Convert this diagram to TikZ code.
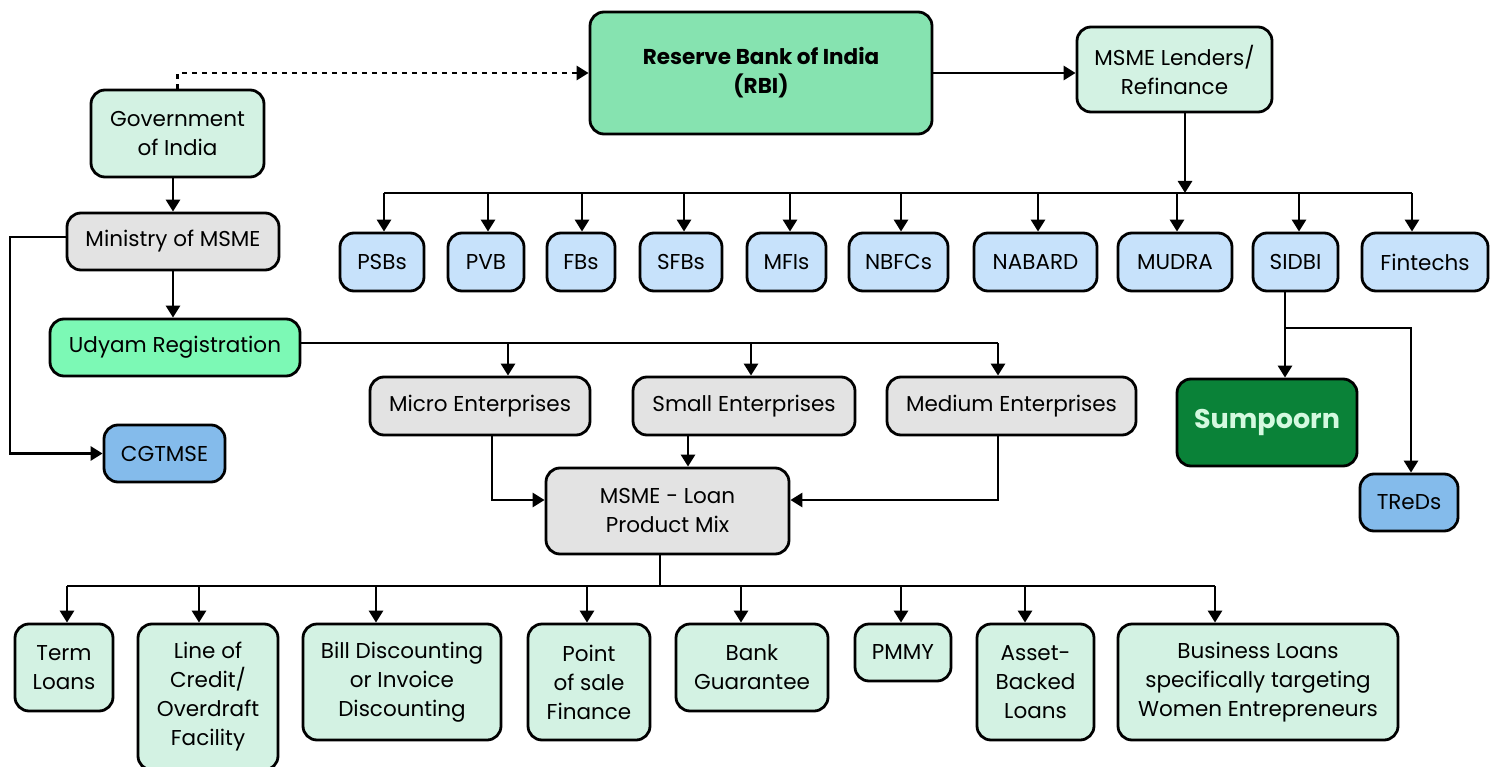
\documentclass[tikz,border=0pt]{standalone}
\usepackage{fontspec}
\setmainfont{Poppins}
\usetikzlibrary{arrows.meta}

\definecolor{paleg}{HTML}{D3F2E3}
\definecolor{rbig}{HTML}{86E3B0}
\definecolor{udyg}{HTML}{7CF9B5}
\definecolor{greyb}{HTML}{E3E3E3}
\definecolor{paleb}{HTML}{C7E2FB}
\definecolor{midb}{HTML}{84BBEB}
\definecolor{darkg}{HTML}{0A8238}
\definecolor{sumtxt}{HTML}{D4F9E0}

\begin{document}
\begin{tikzpicture}[x=1pt,y=-1pt,
    box/.style={draw, line width=2.8pt, rounded corners=14pt, align=center, inner sep=0pt,
        font=\fontsize{21.5pt}{29pt}\selectfont},
    arr/.style={line width=2.8pt, -{Triangle[length=12pt,width=14pt]}},
    wire/.style={line width=2.8pt}]
    \path[use as bounding box, fill=white] (0,0) rectangle (1498,767);

    \node[box, fill=rbig, minimum width=342, minimum height=122,
        font=\fontsize{21.5pt}{29pt}\selectfont\bfseries] (rbi) at (761,73) {Reserve Bank of India\\(RBI)};
    \node[box, fill=paleg, minimum width=195, minimum height=85] (lend) at (1174.5,69.5) {MSME Lenders/\\Refinance};
    \node[box, fill=paleg, minimum width=173, minimum height=87] (gov) at (177.5,133.5) {Government\\of India};
    \node[box, fill=greyb, minimum width=212, minimum height=57] (min) at (173,241.5) {Ministry of MSME};
    \node[box, fill=udyg, minimum width=250, minimum height=57] (udy) at (175,347.5) {Udyam Registration};
    \node[box, fill=midb, minimum width=121, minimum height=57] (cgt) at (164.5,453.5) {CGTMSE};

    \foreach \n/\x/\w/\t in {psb/382/84/PSBs, pvb/486/76/PVB, fbs/581/68/FBs, sfb/681/82/SFBs,
        mfi/786.5/79/MFIs, nbfc/898.5/99/NBFCs, nab/1035.5/123/NABARD, mud/1175/114/MUDRA,
        sid/1295.5/85/SIDBI, fin/1425/126/Fintechs}
        \node[box, fill=paleb, minimum width=\w, minimum height=58] (\n) at (\x,262) {\t};

    \node[box, fill=greyb, minimum width=220, minimum height=58] (mic) at (480,406) {Micro Enterprises};
    \node[box, fill=greyb, minimum width=222, minimum height=58] (sml) at (744,406) {Small Enterprises};
    \node[box, fill=greyb, minimum width=249, minimum height=58] (med) at (1011.5,406) {Medium Enterprises};
    \node[box, fill=greyb, minimum width=243, minimum height=86] (mix) at (667.5,511) {MSME - Loan\\Product Mix};

    \node[box, fill=darkg, text=sumtxt, minimum width=180, minimum height=87,
        font=\fontsize{27pt}{30pt}\selectfont\bfseries] (sum) at (1267,422.5) {Sumpoorn};
    \node[box, fill=midb, minimum width=98, minimum height=57] (trd) at (1409,502.5) {TReDs};

    \node[box, fill=paleg, minimum width=98, minimum height=87] (term) at (64,667.5) {Term\\Loans};
    \node[box, fill=paleg, minimum width=140, minimum height=146] (loc) at (208,697) {Line of\\Credit/\\Overdraft\\Facility};
    \node[box, fill=paleg, minimum width=198, minimum height=116] (bill) at (402,682) {Bill Discounting\\or Invoice\\Discounting};
    \node[box, fill=paleg, minimum width=122, minimum height=116] (pos) at (589,682) {Point\\of sale\\Finance};
    \node[box, fill=paleg, minimum width=152, minimum height=87] (bank) at (752,667.5) {Bank\\Guarantee};
    \node[box, fill=paleg, minimum width=96, minimum height=57] (pmmy) at (903,652.5) {PMMY};
    \node[box, fill=paleg, minimum width=117, minimum height=116] (asset) at (1035.5,682) {Asset-\\Backed\\Loans};
    \node[box, fill=paleg, minimum width=280, minimum height=116] (women) at (1258,682) {Business Loans\\specifically targeting\\Women Entrepreneurs};

    \draw[arr, dash pattern=on 5pt off 5pt] (gov.north) |- (rbi.west);
    \draw[arr] (rbi.east) -- (rbi.east -| lend.west);

    \coordinate (lbus) at (1185,193);
    \draw[arr] (lend.south -| lbus) -- (lbus);
    \draw[wire] (384,193) -- (1412,193);
    \foreach \n/\x in {psb/384, pvb/488, fbs/582, sfb/684, mfi/790, nbfc/901,
        nab/1038, mud/1177, sid/1299, fin/1412}{
        \coordinate (b\n) at (\x,193);
        \draw[arr] (b\n) -- (b\n |- \n.north);
    }

    \draw[arr] (gov.south -| min.north) -- (min.north);
    \draw[arr] (min.south) -- (min.south |- udy.north);
    \coordinate (mleft) at (10,237);
    \draw[arr] (min.west |- mleft) -- (mleft) |- (cgt.west);

    \coordinate (ubus) at (998,343);
    \draw[wire] (udy.east |- ubus) -- (ubus);
    \foreach \n/\x in {mic/508, sml/751, med/998}{
        \coordinate (u\n) at (\x,343);
        \draw[arr] (u\n) -- (u\n |- \n.north);
    }
    \coordinate (mc) at (492,500);
    \coordinate (md) at (998,500);
    \coordinate (sm) at (688,440);
    \draw[arr] (mic.south -| mc) -- (mc) -- (mc -| mix.west);
    \draw[arr] (med.south -| md) -- (md) -- (md -| mix.east);
    \draw[arr] (sml.south -| sm) -- (sm |- mix.north);

    \coordinate (pbus) at (660,586);
    \draw[wire] (mix.south -| pbus) -- (pbus);
    \draw[wire] (67,586) -- (1215,586);
    \foreach \n/\x in {term/67, loc/199, bill/376, pos/587, bank/741, pmmy/901, asset/1025, women/1215}{
        \coordinate (p\n) at (\x,586);
        \draw[arr] (p\n) -- (p\n |- \n.north);
    }

    \coordinate (sd) at (1285,328);
    \coordinate (tr) at (1411,328);
    \draw[arr] (sid.south -| sd) -- (sd) -- (sd |- sum.north);
    \draw[arr] (sd) -- (tr) -- (tr |- trd.north);
\end{tikzpicture}
\end{document}
